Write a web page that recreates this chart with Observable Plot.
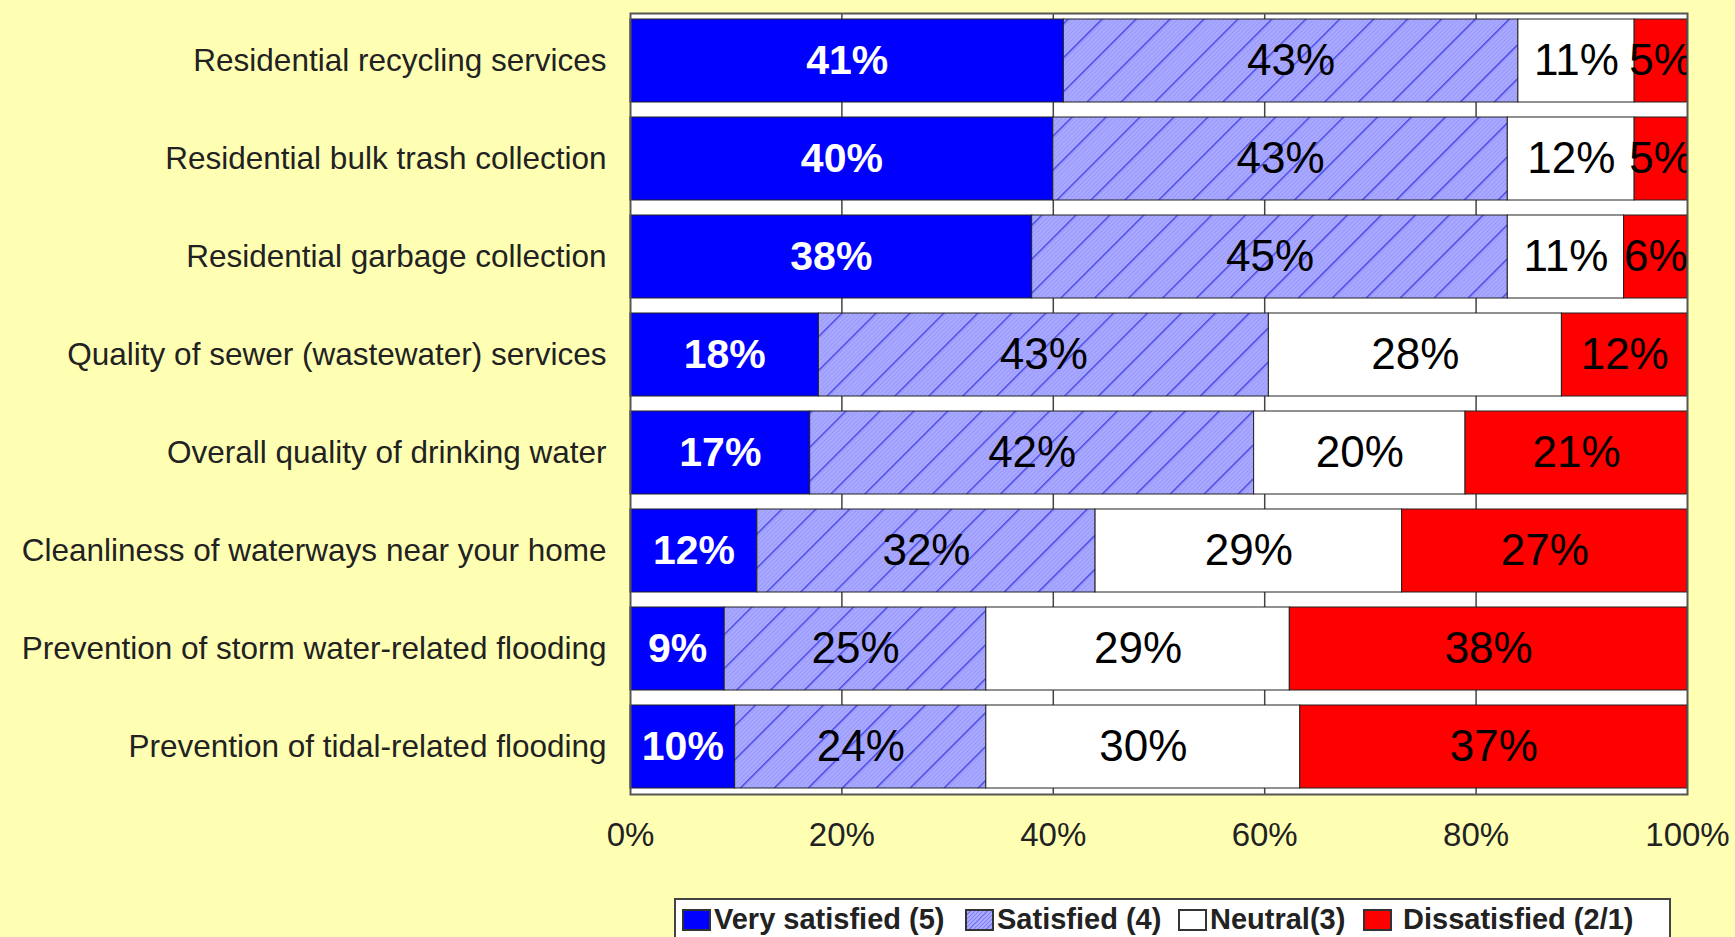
<!DOCTYPE html>
<html>
<head>
<meta charset="utf-8">
<script src="https://cdn.jsdelivr.net/npm/d3@7"></script>
<script src="https://cdn.jsdelivr.net/npm/@observablehq/plot@0.6"></script>
<style>
  html, body { margin: 0; padding: 0; background: #FFFFB4; overflow: hidden; }
  body { width: 1735px; height: 937px; position: relative; font-family: "Liberation Sans", Arial, sans-serif; }
  #chart { position: absolute; left: 0; top: 0; }
  #legend {
    position: absolute; left: 674px; top: 898px; width: 997px; height: 50px;
    background: #fff; border: 2px solid #444; box-sizing: border-box;
    font-family: "Liberation Sans", Arial, sans-serif; font-weight: bold; font-size: 29px; color: #222;
  }
  .item { position: absolute; top: 3px; display: flex; align-items: center; white-space: nowrap; }
  .sw { width: 29px; height: 22px; border: 2px solid #333; box-sizing: border-box; margin-right: 3px; }
</style>
</head>
<body>
<div id="chart"></div>
<div id="legend"></div>
<script>
const categories = [
  "Residential recycling services",
  "Residential bulk trash collection",
  "Residential garbage collection",
  "Quality of sewer (wastewater) services",
  "Overall quality of drinking water",
  "Cleanliness of waterways near your home",
  "Prevention of storm water-related flooding",
  "Prevention of tidal-related flooding"
];
const levels = ["Very satisfied (5)", "Satisfied (4)", "Neutral(3)", "Dissatisfied (2/1)"];
const verySatisfied = [41, 40, 38, 18, 17, 12, 9, 10];
const satisfied     = [43, 43, 45, 43, 42, 32, 25, 24];
const neutral       = [11, 12, 11, 28, 20, 29, 29, 30];
const dissatisfied  = [5, 5, 6, 12, 21, 27, 38, 37];
const xTicks = [0, 0.2, 0.4, 0.6, 0.8, 1];
const gridTicks = [0.2, 0.4, 0.6, 0.8];
const colors = ["#0000FF", "url(#hatch)", "#FFFFFF", "#FF0000"];

const series = [verySatisfied, satisfied, neutral, dissatisfied];
const rows = [];
categories.forEach((c, i) => {
  levels.forEach((l, j) => rows.push({category: c, level: l, value: series[j][i]}));
});

const stackOpts = {offset: "normalize", x: "value", y: "category"};

const plot = Plot.plot({
  width: 1735,
  height: 880,
  marginLeft: 630,
  marginRight: 48,
  marginTop: 13,
  marginBottom: 86,
  style: {background: "transparent", fontFamily: "'Liberation Sans', Arial, sans-serif", color: "#222"},
  x: {domain: [0, 1], ticks: xTicks, tickFormat: d => Math.round(d * 100) + "%", label: null},
  y: {domain: categories, paddingInner: 0.15, paddingOuter: 0.05, label: null},
  color: {domain: levels, range: colors},
  marks: [
    Plot.frame({fill: "#FFFFFF", stroke: "none"}),
    Plot.ruleX(gridTicks, {stroke: "#444", strokeWidth: 1.5}),
    Plot.barX(rows, Plot.stackX({...stackOpts, fill: "level", stroke: "#222", strokeWidth: 1})),
    Plot.text(rows, Plot.stackX({...stackOpts,
      text: d => d.level === levels[0] ? d.value + "%" : "",
      fill: "white", fontWeight: "bold", fontSize: 41, clip: true})),
    Plot.text(rows, Plot.stackX({...stackOpts,
      text: d => d.level === levels[0] ? "" : d.value + "%",
      fill: "#000", fontWeight: "normal", fontSize: 44, clip: true})),
    Plot.frame({stroke: "#555", strokeWidth: 2}),
    Plot.axisX({ticks: xTicks, tickFormat: d => Math.round(d * 100) + "%", tickSize: 0, tickPadding: 28, fontSize: 33, fill: "#222"}),
    Plot.axisY({tickSize: 0, tickPadding: 24, fontSize: 31.5, fill: "#222"})
  ]
});

const svg = d3.select(plot);
const defs = svg.insert("defs", ":first-child");
const pat = defs.append("pattern")
  .attr("id", "hatch")
  .attr("patternUnits", "userSpaceOnUse")
  .attr("width", 24).attr("height", 24)
  .attr("patternTransform", "rotate(45)");
pat.append("rect").attr("width", 24).attr("height", 24).attr("fill", "#A9A9FF");
for (let k = 0; k < 24; k += 3) {
  pat.append("rect").attr("x", k).attr("y", 0).attr("width", 1).attr("height", 24).attr("fill", "#8C8CF8").attr("opacity", 0.55);
}
pat.append("rect").attr("x", 0).attr("y", 0).attr("width", 1.6).attr("height", 24).attr("fill", "#4B4BE6");

document.getElementById("chart").appendChild(plot);

const legend = d3.select("#legend");
const lefts = [6, 289, 502, 687];
const swGap = [3, 3, 3, 11];
levels.forEach((l, j) => {
  const item = legend.append("div").attr("class", "item").style("left", lefts[j] + "px");
  const sw = item.append("div").attr("class", "sw").style("margin-right", swGap[j] + "px");
  if (j === 1) {
    sw.style("background", "repeating-linear-gradient(135deg, #A9A9FF 0 2px, #7C7CF2 2px 3px)");
  } else {
    sw.style("background", colors[j]);
  }
  item.append("span").text(l);
});
</script>
</body>
</html>
